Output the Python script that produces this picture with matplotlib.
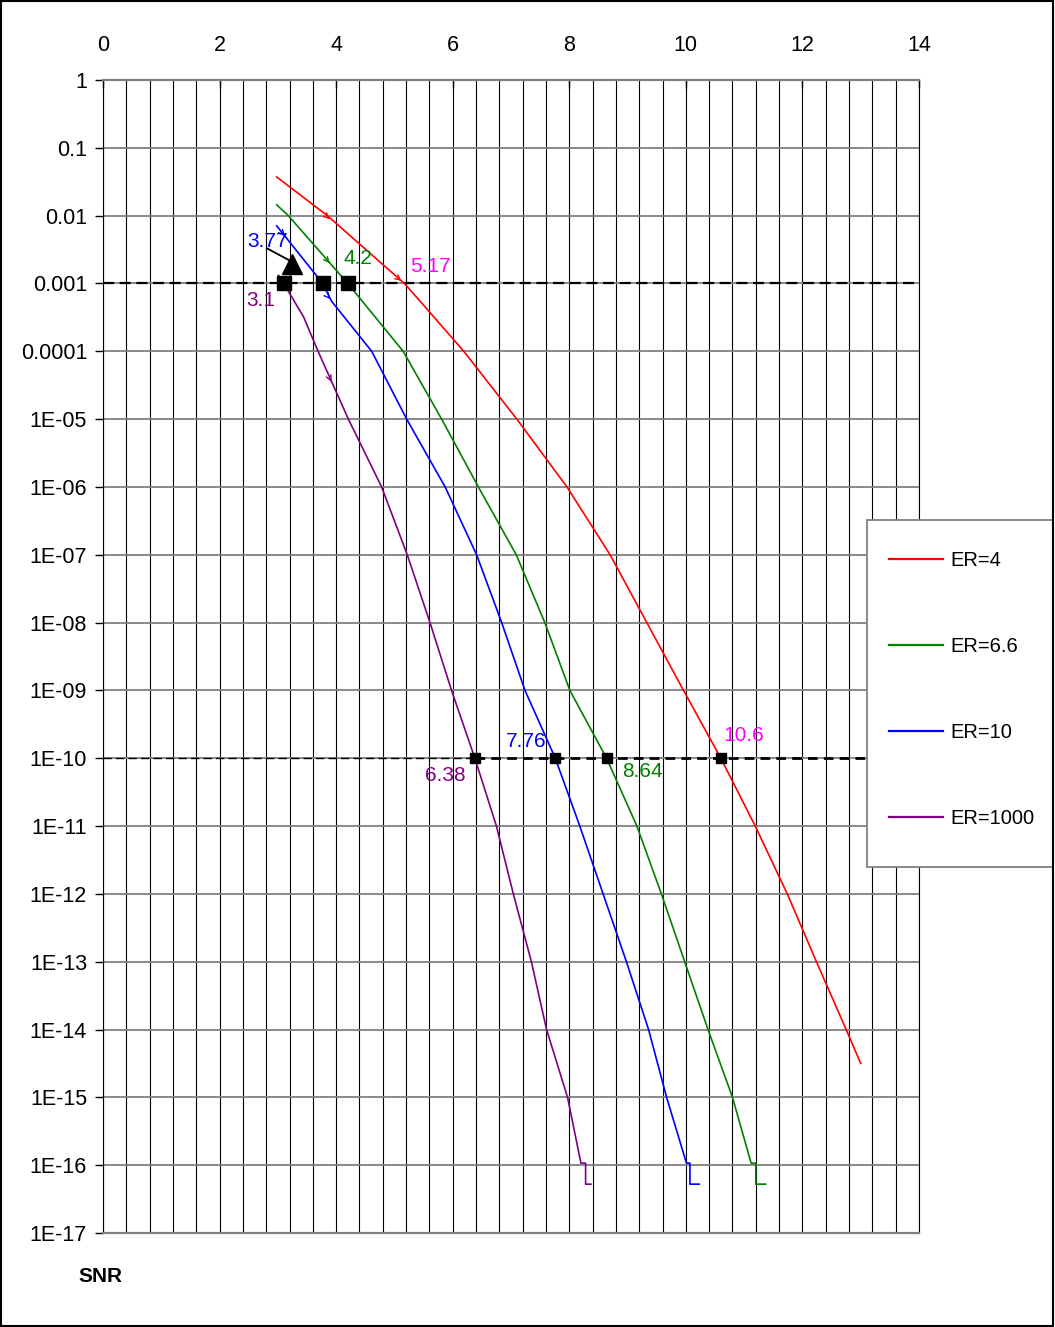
import numpy as np
import matplotlib
matplotlib.use("Agg")
import matplotlib.pyplot as plt
from matplotlib.ticker import FixedLocator, FixedFormatter, MultipleLocator, NullLocator
from matplotlib.patches import Rectangle

plt.rcParams['font.family'] = ['Liberation Sans', 'DejaVu Sans']

# ---------------- data (SNR, log10 of error rate) ----------------
er4_snr = [2.98, 3.85, 5.17, 5.50, 6.19, 7.10, 7.96, 8.70, 9.33, 9.96, 10.6, 11.19, 11.74, 12.24, 12.75, 13.00]
er4_log = [-1.43, -2.0, -3, -3.32, -4, -5, -6, -7, -8, -9, -10, -11, -12, -13, -14, -14.50]

er66_snr = [2.98, 3.18, 4.2, 5.15, 5.81, 6.44, 7.09, 7.58, 8.01, 8.64, 9.16, 9.58, 9.98, 10.38, 10.80, 11.12, 11.20, 11.20, 11.37]
er66_log = [-1.84, -2.0, -3, -4, -5, -6, -7, -8, -9, -10, -11, -12, -13, -14, -15, -15.97, -15.97, -16.28, -16.28]

er10_snr = [2.98, 3.77, 3.92, 4.61, 5.21, 5.87, 6.41, 6.84, 7.24, 7.76, 8.18, 8.58, 8.98, 9.36, 9.67, 10.01, 10.07, 10.07, 10.23]
er10_log = [-2.15, -3, -3.26, -4, -5, -6, -7, -8, -9, -10, -11, -12, -13, -14, -15, -15.97, -15.97, -16.28, -16.28]

er1000_snr = [3.01, 3.1, 3.44, 3.69, 4.21, 4.78, 5.22, 5.61, 5.98, 6.38, 6.75, 7.04, 7.35, 7.61, 7.97, 8.20, 8.28, 8.28, 8.37]
er1000_log = [-2.88, -3.0, -3.49, -4, -5, -6, -7, -8, -9, -10, -11, -12, -13, -14, -15, -15.97, -15.97, -16.28, -16.28]

series_labels = ["ER=4", "ER=6.6", "ER=10", "ER=1000"]
series_colors = ["#FF0000", "#008000", "#0000FF", "#800080"]

x_ticks = [0, 2, 4, 6, 8, 10, 12, 14]
y_ticks_exp = list(range(0, -18, -1))
y_tick_labels = ["1", "0.1", "0.01", "0.001", "0.0001", "1E-05", "1E-06", "1E-07", "1E-08",
                 "1E-09", "1E-10", "1E-11", "1E-12", "1E-13", "1E-14", "1E-15", "1E-16", "1E-17"]

# threshold markers
thr1_snr = [3.1, 3.77, 4.2]
thr2_snr = [6.38, 7.76, 8.64, 10.6]
tri_snr, tri_log = 3.25, -2.71

# annotation labels: (text, x, log10 y, colour)
ann_labels = [("3.77", 2.47, -2.384, "#0000FF"),
              ("4.2", 4.12, -2.63, "#008000"),
              ("5.17", 5.27, -2.75, "#FF00FF"),
              ("3.1", 2.465, -3.245, "#800080"),
              ("7.76", 6.92, -9.757, "#0000FF"),
              ("10.6", 10.65, -9.67, "#FF00FF"),
              ("6.38", 5.52, -10.25, "#800080"),
              ("8.64", 8.90, -10.20, "#008000")]

# small arrow heads on curves: (x_head, log_head, dx, dlog, colour)
chevrons = [(3.89, -2.05, 0.66, -0.5, "#FF0000"),
            (5.12, -2.96, 0.76, -0.5, "#FF0000"),
            (3.89, -2.70, 0.5, -0.5, "#008000"),
            (3.12, -2.30, 0.5, -0.5, "#0000FF"),
            (3.90, -3.23, 0.5, -0.5, "#0000FF"),
            (3.92, -4.45, 0.5, -0.9, "#800080")]

# ---------------- figure ----------------
W, H = 1055, 1327
fig = plt.figure(figsize=(W / 100, H / 100), dpi=100)
ax = fig.add_axes([103 / W, 1 - 1233 / H, 816 / W, 1153 / H])

ax.set_yscale('log')
ax.set_xlim(0, 14)
ax.set_ylim(1e-17, 1)

lines = []
for xs, ls, c, lab in zip([er4_snr, er66_snr, er10_snr, er1000_snr],
                          [er4_log, er66_log, er10_log, er1000_log],
                          series_colors, series_labels):
    ln, = ax.plot(xs, 10 ** np.array(ls), color=c, lw=1.2, label=lab, zorder=3)
    lines.append(ln)

# dashed threshold lines
ax.plot([0, 13.93], [1e-3, 1e-3], color='black', lw=1.6, ls=(0, (5, 2.5)), zorder=2.5)
ax.plot([0, 6.38], [1e-10, 1e-10], color='black', lw=1.0, ls=(0, (6, 3)), zorder=2.5)
ax.plot([6.38, 13.93], [1e-10, 1e-10], color='black', lw=2.0, ls=(0, (3.5, 2.2)), zorder=2.5)

ax.plot(thr1_snr, [1e-3] * len(thr1_snr), ls='none', marker='s', ms=10.5, color='black', zorder=4)
ax.plot(thr2_snr, [1e-10] * len(thr2_snr), ls='none', marker='s', ms=7, color='black', zorder=4)
ax.plot([tri_snr], [10 ** tri_log], ls='none', marker='^', ms=15, color='black', zorder=4)
ax.plot([2.81, 3.22], [10 ** -2.48, 10 ** -2.67], color='black', lw=1.3, zorder=4)

for s, x, lg, c in ann_labels:
    ax.text(x, 10 ** lg, s, color=c, fontsize=15, ha='left', va='center', zorder=5)

for xh, lh, dx, dl, c in chevrons:
    k = 0.03
    ax.annotate('', xy=(xh, 10 ** lh), xytext=(xh - k * dx, 10 ** (lh - k * dl)),
                arrowprops=dict(arrowstyle='->', color=c, lw=1.0, mutation_scale=9,
                                shrinkA=0, shrinkB=0), zorder=3)

# axes styling
ax.xaxis.tick_top()
ax.xaxis.set_major_locator(FixedLocator(x_ticks))
ax.xaxis.set_minor_locator(MultipleLocator(0.4))
ax.yaxis.set_major_locator(FixedLocator([10.0 ** e for e in y_ticks_exp]))
ax.yaxis.set_major_formatter(FixedFormatter(y_tick_labels))
ax.yaxis.set_minor_locator(NullLocator())

ax.tick_params(axis='x', which='major', direction='in', length=6, width=1, pad=17,
               labelsize=15.5, top=True, bottom=False)
ax.tick_params(axis='x', which='minor', length=0, top=False, bottom=False)
ax.tick_params(axis='y', which='major', direction='out', length=6, width=1, pad=5.5,
               labelsize=15.5, colors='black')

ax.grid(True, axis='x', which='both', color='black', lw=0.8, zorder=1)
ax.grid(True, axis='y', which='major', color='#808080', lw=1.3, zorder=1)
ax.set_axisbelow(True)

for side in ['top', 'bottom']:
    ax.spines[side].set_color('#808080')
    ax.spines[side].set_linewidth(1.6)
for side in ['left', 'right']:
    ax.spines[side].set_color('black')
    ax.spines[side].set_linewidth(0.8)

fig.text(78 / W, 1 - 1277 / H, "SNR", fontsize=15, fontweight='bold', ha='left', va='center')

# legend box and legend
fig.patches.append(Rectangle((867 / W, 1 - 867 / H), 186 / W, 347 / H, transform=fig.transFigure,
                             facecolor='white', edgecolor='#808080', lw=1.3, zorder=3))
leg = fig.legend(lines, series_labels, loc='upper left', bbox_to_anchor=(889 / W, 1 - 551 / H),
                 frameon=False, borderpad=0, borderaxespad=0, labelspacing=3.32,
                 handlelength=2.7, handletextpad=0.35, fontsize=14.5)
leg.set_zorder(6)
for l in leg.get_lines():
    l.set_linewidth(1.6)

# outer border of the picture
fig.patches.append(Rectangle((0.001, 0.001), 0.997, 0.998, transform=fig.transFigure,
                             facecolor='none', edgecolor='black', lw=1.5, zorder=10))

fig.savefig("out.png", dpi=100)
